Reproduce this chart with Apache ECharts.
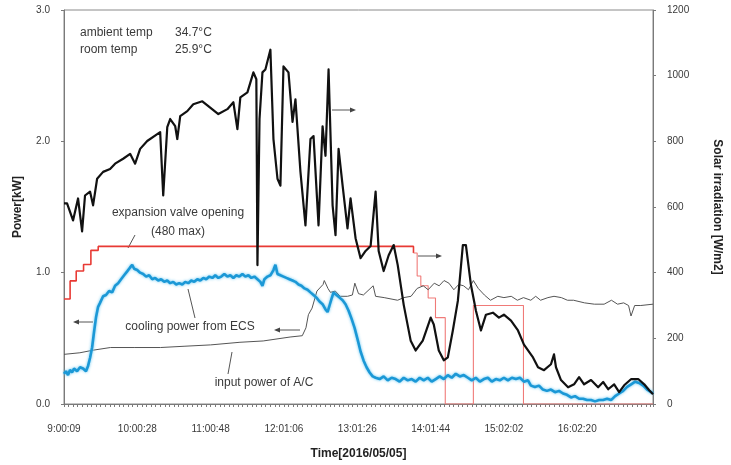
<!DOCTYPE html>
<html>
<head>
<meta charset="utf-8">
<script src="https://cdn.jsdelivr.net/npm/echarts@6/dist/echarts.min.js"></script>
<style>
  html, body { margin: 0; padding: 0; background: #fff; }
  #chart { width: 731px; height: 465px; }
</style>
</head>
<body>
<div id="chart"></div>
<script>
// Time axis: minutes after 9:00:09, one labelled tick per hour of logging
const timeLabels = ['9:00:09', '10:00:28', '11:00:48', '12:01:06', '13:01:26', '14:01:44', '15:02:02', '16:02:20'];

// Solar irradiation [W/m2] (right axis)
const solarIrradiation = [
  [0,611],[2.5,611],[7.4,559],[11.5,626],[14.8,526],[17.2,635],[21.3,647],[23.8,605],[27.1,686],[32,707],
  [37.7,716],[41.8,732],[48.4,747],[54.1,762],[58.2,732],[62.3,777],[68.1,801],[76.3,822],[78.7,828],[81.2,635],
  [84.5,843],[86.9,868],[91,846],[92.7,807],[95.1,877],[100.9,892],[105.8,913],[113.2,922],[118.1,907],[126.3,883],
  [133.7,898],[138.6,919],[141.9,837],[144.3,934],[150.1,949],[155,1010],[157.4,989],[158.3,423],[160,868],[162.4,1010],
  [164.8,1019],[168.9,1079],[171.4,807],[174.7,686],[177.1,665],[179.6,1028],[183.7,1010],[187,859],[189.4,928],[193.5,707],
  [197.6,544],[201.7,807],[204.2,816],[208.3,544],[211.6,846],[214,756],[216.5,1019],[219.8,605],[222.2,514],[224.7,777],
  [228,665],[232,535],[234.5,626],[238.6,505],[242.7,444],[246.8,466],[250.9,481],[255,647],[257.5,466],[261.6,405],
  [265.7,453],[269.8,484],[273.1,423],[278,302],[283.7,193],[287.8,163],[293.6,193],[300.1,263],[302.6,242],[306.7,163],
  [310.8,133],[314.1,142],[318.2,224],[322.3,314],[326.4,484],[328.9,484],[333,363],[337.1,284],[341.2,224],[345.3,272],
  [351,278],[355.9,263],[360,272],[365.8,254],[371.5,224],[376.4,181],[383.8,142],[387.9,112],[392.8,103],[398.5,121],
  [401,151],[402.6,112],[406.7,73],[412.5,51],[417.4,60],[421.5,82],[425.6,60],[431.3,73],[437.1,51],[441.2,67],
  [445.3,45],[450.2,60],[454.3,36],[458.4,57],[464.2,76],[469.9,76],[474.8,60],[478.9,42],[482,30]
];

// Expansion valve opening (480 max), drawn against the right axis
const valveOpening = [
  [0,320],[5,375],[10,405],[16,425],[22,468],[28,480],[286,460],[289,390],[292,360],[298,323],
  [304,263],[312,0],[335,300],[376,0],[482,0]
];

// Cooling power from ECS [kW] (left axis)
const coolingPower = [
  [0,0.23],[1.6,0.25],[3.3,0.22],[4.9,0.26],[6.6,0.24],[8.2,0.27],[10.7,0.25],[13.1,0.28],[15.6,0.27],[18,0.25],
  [19.7,0.29],[21.3,0.35],[23,0.43],[24.6,0.55],[26.2,0.66],[27.9,0.74],[29.5,0.77],[32,0.82],[34.4,0.83],[36.9,0.86],
  [39.4,0.85],[41.8,0.9],[44.3,0.92],[46.7,0.95],[49.2,0.98],[51.7,1.01],[54.1,1.04],[55.8,1.06],[57.4,1.03],[59.9,1.02],
  [62.3,1.0],[64.8,0.99],[67.2,0.97],[69.7,0.98],[72.2,0.95],[74.6,0.96],[77.1,0.94],[79.5,0.95],[82,0.93],[84.5,0.94],
  [86.9,0.92],[89.4,0.93],[91.8,0.91],[94.3,0.92],[96.8,0.91],[99.2,0.93],[101.7,0.92],[104.1,0.94],[106.6,0.93],[109.1,0.95],
  [111.5,0.94],[114,0.96],[116.4,0.95],[118.9,0.97],[121.4,0.96],[123.8,0.98],[126.3,0.96],[128.7,0.97],[131.2,0.99],[133.7,0.97],
  [136.1,0.98],[138.6,0.96],[141,0.98],[143.5,0.97],[146,0.99],[148.4,0.97],[150.9,0.98],[153.3,0.96],[155.8,0.97],[158.3,0.95],
  [160.7,0.93],[162.4,0.9],[164,0.95],[166.5,0.97],[168.9,0.98],[171.4,1.02],[173,1.06],[174.7,0.99],[177.1,0.98],[179.6,0.97],
  [182,0.96],[184.5,0.95],[187,0.94],[189.4,0.93],[191.9,0.91],[194.3,0.9],[196.8,0.88],[199.3,0.87],[201.7,0.85],[204.2,0.83],
  [206.6,0.81],[209.1,0.78],[211.6,0.76],[214,0.72],[215.7,0.7],[217.3,0.75],[218.9,0.8],[220.6,0.85],[223,0.83],[225.5,0.81],
  [228,0.79],[230.4,0.76],[232.9,0.71],[235.3,0.65],[237.8,0.58],[240.3,0.49],[242.7,0.4],[245.2,0.33],[247.6,0.28],[250.1,0.24],
  [252.6,0.21],[255,0.2],[258.3,0.19],[261.6,0.21],[264.9,0.18],[268.1,0.2],[271.4,0.19],[274.7,0.17],[278,0.2],[281.3,0.18],
  [284.5,0.19],[287.8,0.17],[291.1,0.2],[294.4,0.18],[297.7,0.2],[300.9,0.17],[304.2,0.19],[307.5,0.21],[310.8,0.19],[314.1,0.22],
  [317.3,0.2],[320.6,0.23],[323.9,0.21],[327.2,0.22],[330.5,0.2],[333.7,0.18],[337,0.2],[340.3,0.17],[343.6,0.19],[346.9,0.2],
  [350.1,0.17],[353.4,0.19],[356.7,0.18],[360,0.2],[363.3,0.18],[366.5,0.2],[369.8,0.19],[373.1,0.2],[376.4,0.17],[379.7,0.18],
  [382.1,0.14],[385.4,0.13],[388.7,0.14],[391.9,0.11],[395.2,0.1],[398.5,0.11],[401.8,0.09],[405.1,0.1],[408.4,0.08],[411.6,0.07],
  [414.9,0.05],[418.2,0.06],[421.5,0.04],[424.8,0.04],[428,0.03],[431.3,0.03],[434.6,0.02],[437.9,0.03],[441.2,0.03],[444.4,0.04],
  [447.7,0.03],[451,0.06],[454.3,0.08],[457.6,0.1],[460.8,0.13],[464.1,0.15],[467.4,0.17],[470.7,0.16],[474,0.14],[477.2,0.11],
  [480.5,0.09],[482,0.08]
];

// Input power of the A/C [kW] (left axis)
const inputPower = [
  [0,0.378],[13,0.39],[24,0.41],[38,0.43],[58,0.43],[79,0.43],[99,0.44],[120,0.45],[144,0.47],[163,0.48],
  [185,0.51],[195,0.52],[198,0.58],[200,0.68],[203,0.73],[207,0.86],[212,0.91],[213,0.94],[216,0.88],[218,0.85],
  [222,0.86],[226,0.82],[232,0.82],[236,0.83],[238,0.92],[241,0.84],[245,0.83],[253,0.9],[255,0.82],[262,0.81],
  [273,0.79],[278,0.81],[284,0.82],[289,0.88],[294,0.9],[298,0.87],[303,0.92],[307,0.9],[311,0.94],[315,0.92],
  [319,0.87],[323,0.91],[327,0.9],[331,0.87],[335,0.94],[339,0.88],[344,0.83],[349,0.79],[355,0.82],[360,0.81],
  [366,0.82],[371,0.79],[376,0.81],[382,0.79],[386,0.82],[390,0.79],[396,0.81],[401,0.82],[407,0.81],[412,0.79],
  [417,0.79],[426,0.77],[434,0.76],[442,0.76],[448,0.79],[453,0.76],[458,0.77],[462,0.75],[464,0.67],[467,0.75],
  [472,0.75],[482,0.76]
];

// the valve trace is drawn in two parts: fully open (strong red), then closing (lighter)
const valveOpenUntil = 6;

const chart = echarts.init(document.getElementById('chart'), null, { renderer: 'canvas' });

const axisGray = '#7a7a7a';
const fontFamily = 'Liberation Sans, Arial, sans-serif';
const labelStyle = { color: '#3a3a3a', fontSize: 10, fontFamily };
const nameStyle = { color: '#222', fontSize: 12, fontWeight: 'bold', fontFamily };
const textFont = '12px "Liberation Sans", Arial, sans-serif';

// small left/right arrows tying a curve to its axis
function arrow(x1, x2, y) {
  const dir = x2 > x1 ? 1 : -1;
  return [
    { type: 'line', shape: { x1: x1, y1: y, x2: x2 - dir * 5, y2: y }, style: { stroke: '#555', lineWidth: 1 } },
    { type: 'polygon', shape: { points: [[x2, y], [x2 - dir * 6, y - 2.5], [x2 - dir * 6, y + 2.5]] }, style: { fill: '#444' } }
  ];
}

function leader(x1, y1, x2, y2) {
  return { type: 'line', shape: { x1, y1, x2, y2 }, style: { stroke: '#555', lineWidth: 1 } };
}

function note(text, x, y, align) {
  return { type: 'text', x, y, style: { text, font: textFont, fill: '#3a3a3a', align: align || 'left', verticalAlign: 'middle' } };
}

chart.setOption({
  animation: false,
  backgroundColor: '#fff',
  grid: { left: 64, right: 78, top: 10, bottom: 58, show: true, borderColor: '#8a8a8a', borderWidth: 1 },
  xAxis: {
    type: 'value', min: 0, max: 482, interval: 60,
    name: 'Time[2016/05/05]', nameLocation: 'middle', nameGap: 44, nameTextStyle: nameStyle,
    axisLine: { lineStyle: { color: axisGray } },
    axisTick: { show: true, length: 3, lineStyle: { color: axisGray } },
    minorTick: { show: true, splitNumber: 16, length: 3, lineStyle: { color: axisGray } },
    splitLine: { show: false },
    axisLabel: Object.assign({ margin: 20, formatter: v => timeLabels[Math.round(v / 60)] || '' }, labelStyle)
  },
  yAxis: [
    {
      type: 'value', min: 0, max: 3, interval: 1,
      name: 'Power[kW]', nameLocation: 'middle', nameGap: 40, nameRotate: 90, nameTextStyle: nameStyle,
      axisLine: { show: true, lineStyle: { color: axisGray } },
      axisTick: { show: true, length: 3, lineStyle: { color: axisGray } },
      splitLine: { show: false },
      axisLabel: Object.assign({ margin: 14, formatter: v => v.toFixed(1) }, labelStyle)
    },
    {
      type: 'value', min: 0, max: 1200, interval: 200, position: 'right',
      name: 'Solar irradiation [W/m2]', nameLocation: 'middle', nameGap: 58, nameRotate: -90, nameTextStyle: nameStyle,
      axisLine: { show: true, lineStyle: { color: axisGray } },
      axisTick: { show: true, length: 3, lineStyle: { color: axisGray } },
      splitLine: { show: false },
      axisLabel: Object.assign({ margin: 14, formatter: v => String(v) }, labelStyle)
    }
  ],
  series: [
    {
      name: 'expansion valve opening', type: 'line', yAxisIndex: 1, step: 'end',
      data: valveOpening.slice(0, valveOpenUntil + 1), showSymbol: false,
      lineStyle: { color: '#e83a34', width: 1.6 }, z: 2
    },
    {
      name: 'expansion valve opening (closing)', type: 'line', yAxisIndex: 1, step: 'end',
      data: valveOpening.slice(valveOpenUntil), showSymbol: false,
      lineStyle: { color: '#f07a78', width: 1.1 }, z: 2
    },
    {
      name: 'input power of A/C', type: 'line', yAxisIndex: 0,
      data: inputPower, showSymbol: false,
      lineStyle: { color: '#555', width: 1 }, z: 3
    },
    {
      name: 'cooling power from ECS', type: 'line', yAxisIndex: 0,
      data: coolingPower, showSymbol: false,
      lineStyle: { color: '#1b98d6', width: 2.6, shadowColor: 'rgba(80,190,240,0.9)', shadowBlur: 3 }, z: 4
    },
    {
      name: 'solar irradiation', type: 'line', yAxisIndex: 1,
      data: solarIrradiation, showSymbol: false,
      lineStyle: { color: '#111', width: 2.2, join: 'round' }, z: 5
    }
  ],
  graphic: [
    note('ambient temp', 80, 33),
    note('34.7°C', 175, 33),
    note('room temp', 80, 50),
    note('25.9°C', 175, 50),
    note('expansion valve opening', 178, 213, 'center'),
    note('(480 max)', 178, 232, 'center'),
    leader(128, 248, 135, 235),
    note('cooling power from ECS', 190, 327, 'center'),
    leader(188, 289, 195, 318),
    note('input power of A/C', 264, 383, 'center'),
    leader(232, 352, 228, 374),
    ...arrow(93, 73, 322),
    ...arrow(300, 274, 330),
    ...arrow(332, 356, 110),
    ...arrow(418, 442, 256)
  ]
});
</script>
</body>
</html>
